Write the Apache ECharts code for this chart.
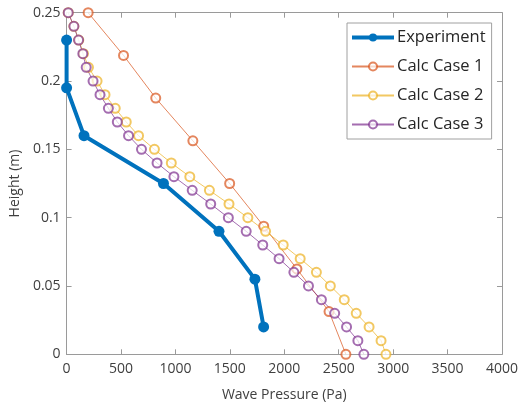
<!DOCTYPE html>
<html><head><meta charset="utf-8">
<script src="https://cdn.jsdelivr.net/npm/echarts@6/dist/echarts.min.js"></script>
<style>html,body{margin:0;padding:0;background:#fff}#c{width:521px;height:409px}</style>
</head><body><div id="c"></div>
<script>
var expX = [0, 0, 160, 890, 1400, 1730, 1810];
var expY = [0.23, 0.195, 0.16, 0.125, 0.09, 0.055, 0.02];
var case1X = [198, 523, 819, 1160, 1498, 1811, 2116, 2411, 2566];
var case1Y = [0.25, 0.21875, 0.1875, 0.15625, 0.125, 0.09375, 0.0625, 0.03125, 0];
var calcY = [0.25, 0.24, 0.23, 0.22, 0.21, 0.20, 0.19, 0.18, 0.17, 0.16, 0.15, 0.14, 0.13, 0.12, 0.11, 0.10, 0.09, 0.08, 0.07, 0.06, 0.05, 0.04, 0.03, 0.02, 0.01, 0];
var case2X = [15, 67, 112, 155, 201, 280, 353, 447, 548, 661, 807, 962, 1132, 1312, 1492, 1665, 1828, 1990, 2146, 2295, 2423, 2551, 2661, 2779, 2889, 2934];
var case3X = [15, 67, 110, 149, 180, 243, 307, 384, 466, 569, 688, 831, 986, 1154, 1324, 1486, 1650, 1802, 1952, 2088, 2222, 2341, 2463, 2572, 2676, 2731];
var xTicks = {min: 0, max: 4000, interval: 500};
var yTicks = {min: 0, max: 0.25, interval: 0.05};
var names = ['Experiment', 'Calc Case 1', 'Calc Case 2', 'Calc Case 3'];

function zip(xs, ys) { return xs.map(function (x, i) { return [x, ys[i]]; }); }

var font = '"Open Sans", "Noto Sans", sans-serif';
var axisCol = '#9a9a9a';
var txtCol = '#404040';
function xa(pos, show) {
  return {type: 'value', position: pos, min: xTicks.min, max: xTicks.max, interval: xTicks.interval,
    name: show ? 'Wave Pressure (Pa)' : '', nameLocation: 'middle', nameGap: 34,
    nameTextStyle: {color: txtCol, fontSize: 14, fontFamily: font},
    axisLine: {show: true, onZero: false, lineStyle: {color: axisCol, width: 1}},
    axisTick: {show: true, inside: true, length: 5, lineStyle: {color: axisCol}},
    axisLabel: {show: show, color: txtCol, fontSize: 14, fontFamily: font, margin: 8,
      formatter: function (v) { return String(v); }},
    splitLine: {show: false}};
}
function ya(pos, show) {
  return {type: 'value', position: pos, min: yTicks.min, max: yTicks.max, interval: yTicks.interval,
    name: show ? 'Height (m)' : '', nameLocation: 'middle', nameGap: 42, nameRotate: 90,
    nameTextStyle: {color: txtCol, fontSize: 14, fontFamily: font},
    axisLine: {show: true, onZero: false, lineStyle: {color: axisCol, width: 1}},
    axisTick: {show: true, inside: true, length: 5, lineStyle: {color: axisCol}},
    axisLabel: {show: show, color: txtCol, fontSize: 14, fontFamily: font, margin: 6},
    splitLine: {show: false}};
}
function calc(name, xs, ys, col) {
  return {name: name, type: 'line', data: zip(xs, ys), xAxisIndex: 0, yAxisIndex: 0,
    symbol: 'emptyCircle', symbolSize: 9, showSymbol: true, animation: false,
    lineStyle: {color: col, width: 1, opacity: 0.7},
    itemStyle: {color: col, borderColor: col, borderWidth: 1, opacity: 0.7}};
}
var chart = echarts.init(document.getElementById('c'), null, {renderer: 'canvas'});
chart.setOption({
  backgroundColor: '#fff',
  animation: false,
  grid: {left: 65, right: 18, top: 12.7, bottom: 54.7, containLabel: false},
  xAxis: [xa('bottom', true), xa('top', false)],
  yAxis: [ya('left', true), ya('right', false)],
  legend: {
    orient: 'vertical', left: 347, top: 23,
    data: [
      {name: names[0], lineStyle: {width: 4}},
      {name: names[1]}, {name: names[2]}, {name: names[3]}
    ],
    backgroundColor: '#fff', borderColor: '#a0a0a0', borderWidth: 1,
    padding: [6, 6, 6, 3], itemGap: 12, itemWidth: 42, itemHeight: 10,
    textStyle: {fontSize: 16.5, color: '#262626', fontFamily: font, padding: [0, 0, 0, -2]}
  },
  series: [
    {name: names[0], type: 'line', data: zip(expX, expY), symbol: 'circle', symbolSize: 11,
      showSymbol: true, lineStyle: {color: '#0072BD', width: 4}, itemStyle: {color: '#0072BD'}, z: 5},
    calc(names[1], case1X, case1Y, '#D95319'),
    calc(names[2], case2X, calcY, '#EDB120'),
    calc(names[3], case3X, calcY, '#7E2F8E')
  ]
});
</script></body></html>
